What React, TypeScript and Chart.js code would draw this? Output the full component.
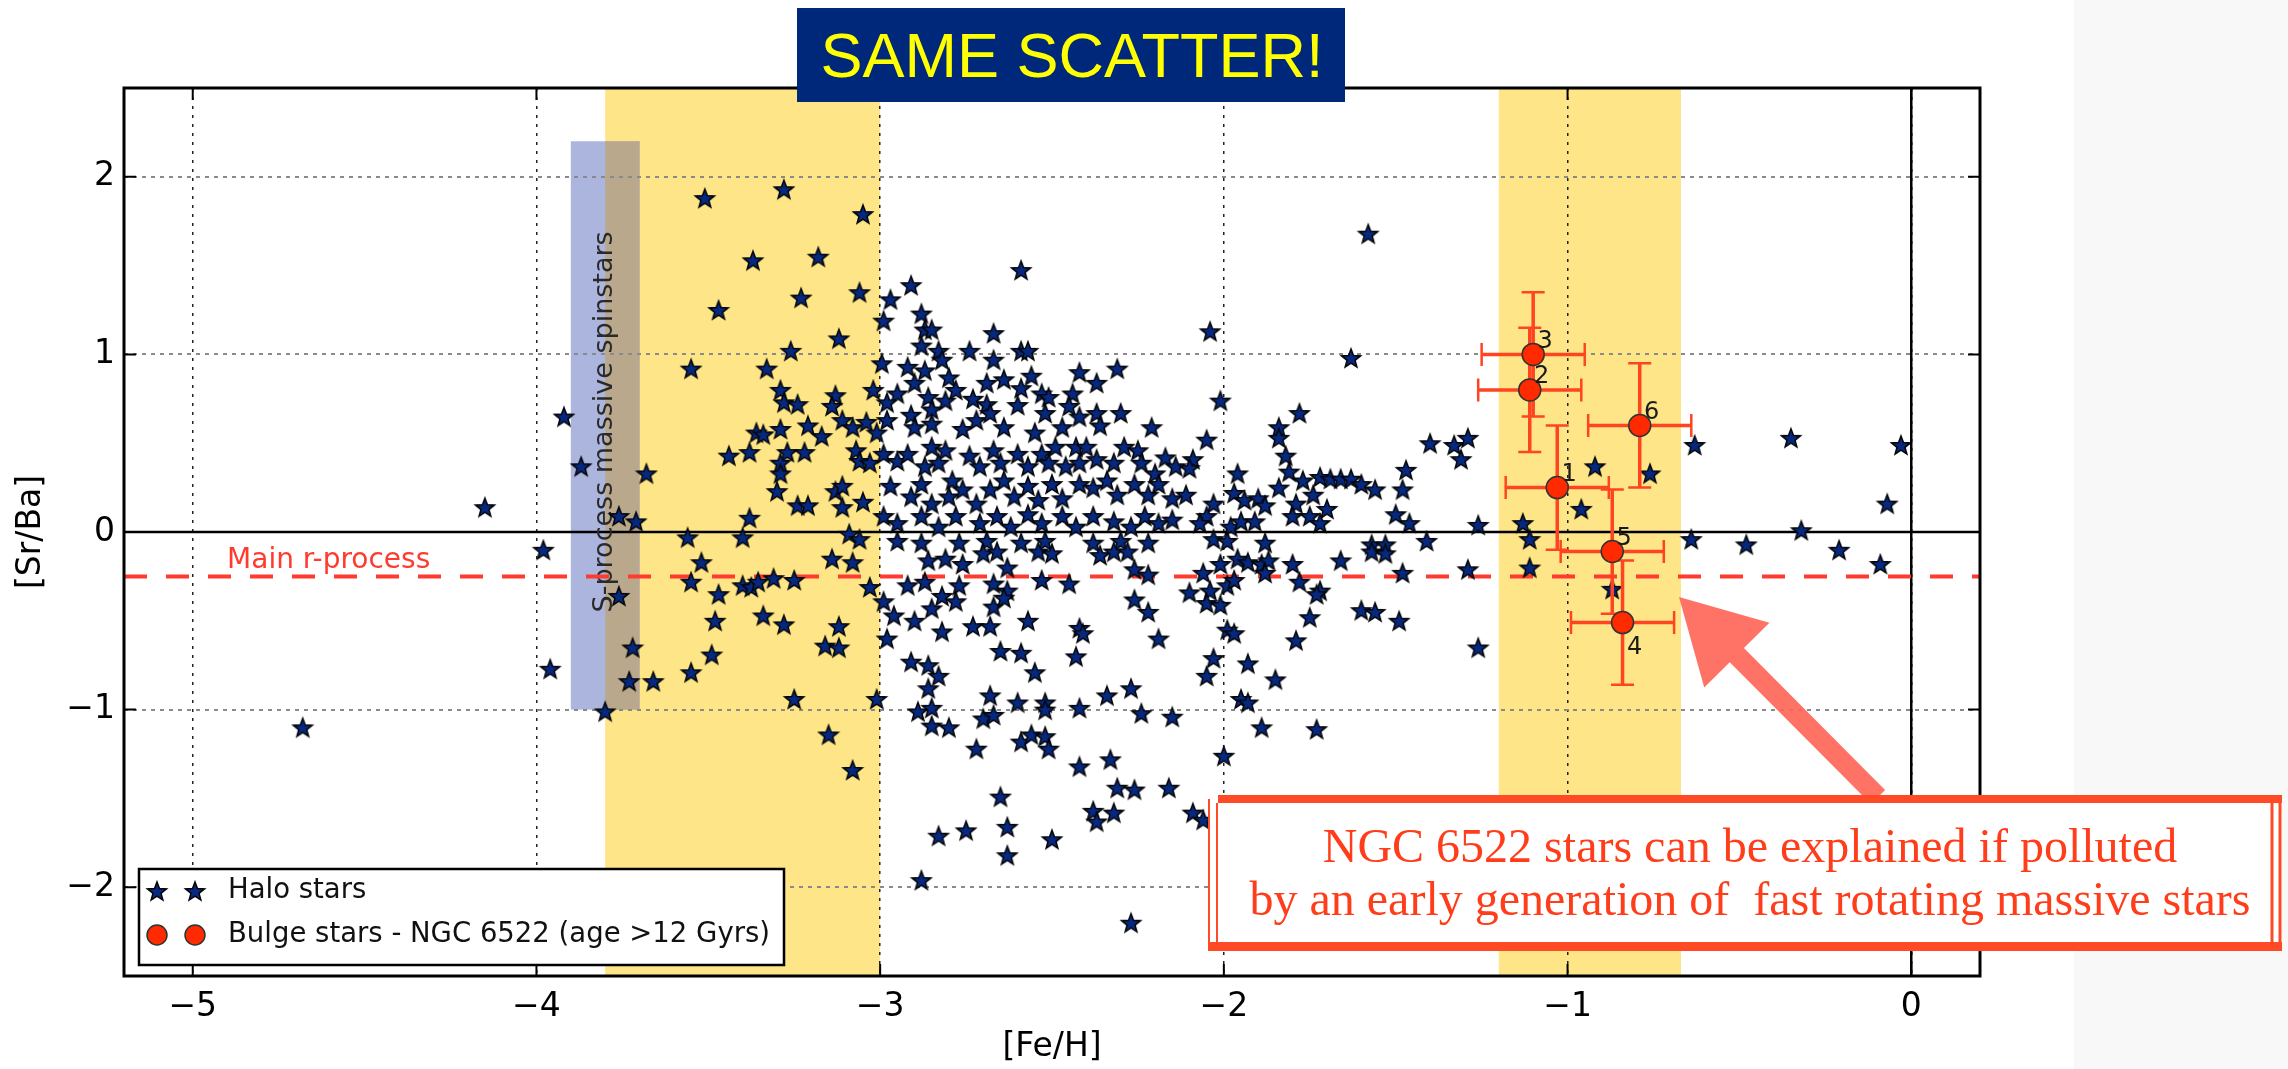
import React, { useEffect, useRef } from 'react';
import { Chart, registerables } from 'chart.js';

Chart.register(...registerables);

// ---------- axes ----------
const X_MIN = -5.2;
const X_MAX = 0.2;
const Y_MIN = -2.5;
const Y_MAX = 2.5;
const X_TICKS = [-5, -4, -3, -2, -1, 0];
const Y_TICKS = [-2, -1, 0, 1, 2];
const X_TITLE = '[Fe/H]';
const Y_TITLE = '[Sr/Ba]';

// ---------- reference lines / bands ----------
const MAIN_R_PROCESS = -0.25;
const MAIN_R_LABEL = 'Main r-process';
const MAIN_R_LABEL_POS: [number, number] = [-4.9, -0.2];
const YELLOW_BANDS: [number, number][] = [
  [-3.8, -3.0],
  [-1.2, -0.67],
];
const SPIN_BAND = { x0: -3.9, x1: -3.7, y0: -1.0, y1: 2.2 };
const SPIN_LABEL = 'S-process massive spinstars';
const SPIN_LABEL_POS: [number, number] = [-3.8, 0.62];

// ---------- bulge stars (NGC 6522) ----------
const BULGE_IDS = ['1', '2', '3', '4', '5', '6'];
const BULGE_FEH = [-1.03, -1.11, -1.1, -0.84, -0.87, -0.79];
const BULGE_SRBA = [0.25, 0.8, 1.0, -0.51, -0.11, 0.6];
const BULGE_FEH_ERR = [0.15, 0.15, 0.15, 0.15, 0.15, 0.15];
const BULGE_SRBA_ERR = [0.35, 0.35, 0.35, 0.35, 0.35, 0.35];

// ---------- halo stars ([Fe/H], [Sr/Ba]) ----------
const HALO_STARS: [number, number][] = [
  [-3.51, 1.88], [-3.28, 1.93], [-3.05, 1.79], [-3.37, 1.53], [-3.18, 1.55], [-3.23, 1.32], [-3.06, 1.35],
  [-3.47, 1.25], [-3.12, 1.09], [-3.26, 1.02], [-3.55, 0.92], [-3.33, 0.92], [-3.92, 0.65], [-3.87, 0.37],
  [-3.68, 0.33], [-3.29, 0.8], [-3.28, 0.73], [-3.24, 0.72], [-3.13, 0.77], [-3.14, 0.71], [-3.02, 0.8],
  [-3.11, 0.63], [-3.08, 0.59], [-3.04, 0.62], [-3.01, 0.56], [-3.21, 0.6], [-3.17, 0.54], [-3.29, 0.58],
  [-3.36, 0.56], [-3.34, 0.55], [-3.38, 0.45], [-3.44, 0.43], [-3.27, 0.45], [-3.22, 0.45], [-3.29, 0.39],
  [-3.29, 0.33], [-3.07, 0.46], [-3.06, 0.4], [-3.03, 0.39], [-3.13, 0.23], [-3.11, 0.26], [-3.3, 0.23],
  [-3.24, 0.15], [-3.21, 0.15], [-3.11, 0.14], [-3.05, 0.17], [-3.38, 0.08], [-3.76, 0.09], [-3.71, 0.06],
  [-3.98, -0.1], [-3.52, -0.17], [-3.56, -0.03], [-3.4, -0.03], [-3.14, -0.15], [-3.08, -0.17], [-3.09, -0.01],
  [-3.06, -0.04], [-3.55, -0.28], [-3.47, -0.35], [-3.4, -0.3], [-3.375, -0.31], [-3.355, -0.28], [-3.31, -0.26],
  [-3.25, -0.27], [-3.03, -0.31], [-3.76, -0.36], [-3.48, -0.5], [-3.34, -0.47], [-3.28, -0.52], [-3.12, -0.53],
  [-3.16, -0.64], [-3.12, -0.65], [-3.72, -0.65], [-3.49, -0.69], [-3.96, -0.77], [-3.55, -0.79], [-3.73, -0.84],
  [-3.66, -0.84], [-3.25, -0.94], [-3.01, -0.94], [-3.8, -1.01], [-3.15, -1.14], [-3.08, -1.34],
  [-4.68, -1.1], [-4.15, 0.14],
  [-2.59, 1.475], [-2.91, 1.39], [-2.97, 1.31], [-2.99, 1.19], [-2.88, 1.23], [-2.87, 1.14], [-2.85, 1.14],
  [-2.88, 1.05], [-2.83, 1.02], [-2.82, 0.97], [-2.67, 1.12], [-2.74, 1.02], [-2.67, 0.97], [-2.59, 1.02],
  [-2.57, 1.02], [-2.995, 0.95], [-2.92, 0.93], [-2.87, 0.91], [-2.8, 0.87], [-2.69, 0.84], [-2.64, 0.86],
  [-2.56, 0.88], [-2.59, 0.81], [-2.42, 0.9], [-2.37, 0.84], [-2.31, 0.92], [-2.95, 0.78], [-2.9, 0.84],
  [-2.86, 0.76], [-2.81, 0.74], [-2.78, 0.8], [-2.73, 0.75], [-2.69, 0.72], [-2.6, 0.715], [-2.53, 0.78],
  [-2.51, 0.76], [-2.44, 0.78], [-2.98, 0.73], [-2.98, 0.63], [-2.91, 0.66], [-2.85, 0.69], [-2.9, 0.59],
  [-2.85, 0.61], [-2.76, 0.58], [-2.72, 0.63], [-2.68, 0.67], [-2.64, 0.59], [-2.55, 0.56], [-2.52, 0.67],
  [-2.47, 0.59], [-2.45, 0.71], [-2.42, 0.65], [-2.37, 0.67], [-2.36, 0.6], [-2.3, 0.67], [-2.21, 0.59],
  [-2.99, 0.44], [-2.95, 0.4], [-2.92, 0.44], [-2.85, 0.48], [-2.81, 0.46], [-2.87, 0.37], [-2.83, 0.39],
  [-2.79, 0.29], [-2.74, 0.43], [-2.71, 0.37], [-2.67, 0.46], [-2.65, 0.39], [-2.6, 0.44], [-2.57, 0.37],
  [-2.53, 0.44], [-2.51, 0.39], [-2.49, 0.48], [-2.43, 0.48], [-2.4, 0.48], [-2.46, 0.37], [-2.42, 0.39],
  [-2.37, 0.41], [-2.32, 0.39], [-2.29, 0.48], [-2.25, 0.46], [-2.24, 0.39], [-2.2, 0.33], [-2.17, 0.42],
  [-2.14, 0.37], [-2.97, 0.26], [-2.91, 0.2], [-2.88, 0.27], [-2.85, 0.16], [-2.8, 0.2], [-2.76, 0.24],
  [-2.72, 0.16], [-2.68, 0.24], [-2.64, 0.29], [-2.61, 0.2], [-2.57, 0.26], [-2.54, 0.18], [-2.5, 0.27],
  [-2.47, 0.19], [-2.42, 0.27], [-2.38, 0.25], [-2.34, 0.29], [-2.31, 0.21], [-2.26, 0.27], [-2.22, 0.21],
  [-2.19, 0.27], [-2.15, 0.19], [-2.99, 0.09], [-2.95, 0.05], [-2.88, 0.09], [-2.83, 0.03], [-2.78, 0.09],
  [-2.71, 0.05], [-2.66, 0.09], [-2.62, 0.03], [-2.57, 0.1], [-2.53, 0.05], [-2.47, 0.09], [-2.43, 0.03],
  [-2.38, 0.09], [-2.32, 0.06], [-2.27, 0.03], [-2.23, 0.09], [-2.19, 0.05], [-2.15, 0.07], [-2.95, -0.05],
  [-2.88, -0.06], [-2.77, -0.06], [-2.69, -0.05], [-2.59, -0.06], [-2.52, -0.05], [-2.38, -0.06], [-2.3, -0.05],
  [-2.22, -0.06],
  [-2.86, -0.16], [-2.81, -0.15], [-2.76, -0.18], [-2.7, -0.12], [-2.66, -0.11], [-2.54, -0.11], [-2.5, -0.12],
  [-2.36, -0.13], [-2.32, -0.11], [-2.28, -0.11], [-2.63, -0.2], [-2.92, -0.3], [-2.87, -0.28], [-2.82, -0.36],
  [-2.77, -0.3], [-2.67, -0.29], [-2.63, -0.33], [-2.53, -0.27], [-2.45, -0.29], [-2.26, -0.21], [-2.22, -0.24],
  [-2.99, -0.39], [-2.96, -0.47], [-2.85, -0.43], [-2.78, -0.39], [-2.67, -0.42], [-2.64, -0.37], [-2.26, -0.38],
  [-2.22, -0.45], [-2.9, -0.5], [-2.82, -0.56], [-2.73, -0.53], [-2.68, -0.53], [-2.57, -0.5], [-2.42, -0.54],
  [-2.41, -0.57], [-2.98, -0.6], [-2.19, -0.6], [-2.65, -0.67], [-2.59, -0.68], [-2.43, -0.7], [-2.91, -0.73],
  [-2.86, -0.75], [-2.83, -0.81], [-2.55, -0.79], [-2.86, -0.88], [-2.68, -0.92], [-2.6, -0.96], [-2.52, -0.96],
  [-2.34, -0.92], [-2.27, -0.88], [-2.89, -1.01], [-2.85, -0.99], [-2.7, -1.05], [-2.67, -1.03], [-2.52, -1.0],
  [-2.42, -0.99], [-2.24, -1.02], [-2.15, -1.04], [-2.85, -1.09], [-2.8, -1.1], [-2.59, -1.18], [-2.56, -1.14],
  [-2.52, -1.15], [-2.51, -1.22], [-2.72, -1.22], [-2.42, -1.32], [-2.33, -1.28], [-2.31, -1.44], [-2.26, -1.45],
  [-2.16, -1.44], [-2.65, -1.49], [-2.38, -1.57], [-2.37, -1.63], [-2.32, -1.58], [-2.83, -1.71], [-2.75, -1.68],
  [-2.63, -1.66], [-2.5, -1.73], [-2.63, -1.82], [-2.88, -1.96], [-2.27, -2.2],
  [-2.04, 1.13], [-1.63, 0.98], [-2.01, 0.74], [-1.78, 0.67], [-2.05, 0.52], [-1.84, 0.59], [-1.84, 0.53],
  [-1.82, 0.43], [-2.09, 0.41], [-2.1, 0.36], [-1.4, 0.5], [-1.33, 0.49], [-1.29, 0.53], [-1.31, 0.41],
  [-1.47, 0.35], [-1.48, 0.24], [-1.96, 0.33], [-1.81, 0.34], [-1.77, 0.29], [-1.72, 0.31], [-1.69, 0.3],
  [-1.66, 0.3], [-1.63, 0.3], [-1.6, 0.27], [-1.56, 0.24], [-2.11, 0.21], [-1.97, 0.22], [-1.94, 0.18],
  [-1.9, 0.19], [-1.88, 0.15], [-1.84, 0.25], [-1.79, 0.16], [-1.74, 0.21], [-1.7, 0.13], [-2.03, 0.16],
  [-2.05, 0.09], [-2.07, 0.05], [-1.98, 0.03], [-1.95, 0.06], [-1.91, 0.06], [-1.8, 0.09], [-1.75, 0.09],
  [-1.72, 0.05], [-1.5, 0.1], [-1.46, 0.05], [-1.26, 0.04], [-2.03, -0.04], [-1.99, -0.05], [-1.88, -0.06],
  [-1.57, -0.07], [-1.53, -0.07], [-1.41, -0.05], [-1.58, 1.68],
  [-2.01, -0.18], [-1.96, -0.15], [-1.93, -0.17], [-1.89, -0.18], [-1.87, -0.16], [-1.8, -0.18], [-1.66, -0.16],
  [-1.57, -0.11], [-1.53, -0.12], [-2.06, -0.23], [-1.88, -0.23], [-1.48, -0.23], [-1.29, -0.21], [-2.1, -0.34],
  [-2.04, -0.33], [-1.99, -0.3], [-1.97, -0.27], [-1.78, -0.28], [-1.72, -0.33], [-1.73, -0.35], [-2.05, -0.4],
  [-2.01, -0.41], [-1.75, -0.48], [-1.6, -0.44], [-1.56, -0.45], [-1.49, -0.5], [-1.99, -0.55], [-1.97, -0.57],
  [-1.79, -0.61], [-1.26, -0.65], [-2.03, -0.71], [-1.93, -0.74], [-2.05, -0.81], [-1.85, -0.83], [-1.95, -0.94],
  [-1.93, -0.96], [-1.89, -1.1], [-1.73, -1.11], [-2.0, -1.26], [-2.09, -1.58], [-2.06, -1.62],
  [-0.92, 0.37], [-0.96, 0.13], [-0.76, 0.33], [-0.63, 0.49], [-0.35, 0.53], [-0.03, 0.49], [-0.07, 0.16],
  [-1.13, 0.05], [-1.11, -0.04], [-1.11, -0.2], [-0.64, -0.04], [-0.48, -0.07], [-0.32, 0.01], [-0.21, -0.1],
  [-0.09, -0.18], [-0.87, -0.32],
];

// ---------- texts ----------
const LEGEND_LABELS = ['Halo stars', 'Bulge stars - NGC 6522 (age >12 Gyrs)'];
const TITLE_TEXT = 'SAME SCATTER!';
const NOTE_LINES = [
  'NGC 6522 stars can be explained if polluted',
  'by an early generation of  fast rotating massive stars',
];

// ---------- styles ----------
const W = 2288;
const H = 1069;
const STAR_FILL = '#06287e';
const STAR_EDGE = '#050505';
const BULGE_FILL = '#ff2a00';
const ERR_COLOR = '#ff4422';
const RED_LINE = '#ff3b30';
const NOTE_RED = '#ff3d1a';
const FONT = '"DejaVu Sans", sans-serif';

function makeStar(r: number): HTMLCanvasElement {
  const size = Math.ceil(r * 2 + 4);
  const c = document.createElement('canvas');
  c.width = size;
  c.height = size;
  const g = c.getContext('2d')!;
  const cx = size / 2;
  const cy = size / 2 + r * 0.1;
  g.beginPath();
  for (let i = 0; i < 10; i++) {
    const rr = i % 2 === 0 ? r : r * 0.42;
    const a = -Math.PI / 2 + (i * Math.PI) / 5;
    const px = cx + rr * Math.cos(a);
    const py = cy + rr * Math.sin(a);
    if (i === 0) g.moveTo(px, py);
    else g.lineTo(px, py);
  }
  g.closePath();
  g.fillStyle = STAR_FILL;
  g.fill();
  g.lineWidth = 1.5;
  g.lineJoin = 'miter';
  g.strokeStyle = STAR_EDGE;
  g.stroke();
  return c;
}

const fmtTick = (v: number) => (v < 0 ? '\u2212' + Math.abs(v) : String(v));

export default function App() {
  const ref = useRef<HTMLCanvasElement | null>(null);

  useEffect(() => {
    document.body.style.margin = '0';
    const canvas = ref.current;
    if (!canvas) return;
    const starImg = makeStar(10);

    const backgroundPlugin = {
      id: 'bgBands',
      beforeDraw(chart: any) {
        const { ctx, chartArea: a, scales } = chart;
        const x = scales.x;
        const y = scales.y;
        ctx.save();
        ctx.fillStyle = '#ffffff';
        ctx.fillRect(0, 0, chart.width, chart.height);
        ctx.fillStyle = '#f8f8f8';
        ctx.fillRect(2074, 0, chart.width - 2074, chart.height);
        ctx.fillStyle = '#fde588';
        for (const [b0, b1] of YELLOW_BANDS) {
          const p0 = x.getPixelForValue(b0);
          const p1 = x.getPixelForValue(b1);
          ctx.fillRect(p0, a.top, p1 - p0, a.bottom - a.top);
        }
        const sx0 = x.getPixelForValue(SPIN_BAND.x0);
        const sx1 = x.getPixelForValue(SPIN_BAND.x1);
        const sy0 = y.getPixelForValue(SPIN_BAND.y1);
        const sy1 = y.getPixelForValue(SPIN_BAND.y0);
        ctx.fillStyle = '#abb5dd';
        ctx.fillRect(sx0, sy0, sx1 - sx0, sy1 - sy0);
        ctx.fillStyle = '#b9a88b';
        for (const [b0, b1] of YELLOW_BANDS) {
          const i0 = Math.max(b0, SPIN_BAND.x0);
          const i1 = Math.min(b1, SPIN_BAND.x1);
          if (i1 > i0) {
            const q0 = x.getPixelForValue(i0);
            const q1 = x.getPixelForValue(i1);
            ctx.fillRect(q0, sy0, q1 - q0, sy1 - sy0);
          }
        }
        ctx.restore();
      },
      beforeDatasetsDraw(chart: any) {
        const { ctx, chartArea: a, scales } = chart;
        const x = scales.x;
        const y = scales.y;
        ctx.save();
        ctx.strokeStyle = '#000';
        ctx.lineWidth = 2.5;
        ctx.setLineDash([]);
        const y0 = y.getPixelForValue(0);
        const x0 = x.getPixelForValue(0);
        ctx.beginPath();
        ctx.moveTo(a.left, y0);
        ctx.lineTo(a.right, y0);
        ctx.moveTo(x0, a.top);
        ctx.lineTo(x0, a.bottom);
        ctx.stroke();
        ctx.fillStyle = '#2a2a2a';
        ctx.font = `27px ${FONT}`;
        ctx.textAlign = 'center';
        ctx.textBaseline = 'middle';
        ctx.translate(x.getPixelForValue(SPIN_LABEL_POS[0]), y.getPixelForValue(SPIN_LABEL_POS[1]));
        ctx.rotate(-Math.PI / 2);
        ctx.fillText(SPIN_LABEL, 0, 0);
        ctx.restore();
        ctx.save();
        ctx.fillStyle = RED_LINE;
        ctx.font = `28px ${FONT}`;
        ctx.textAlign = 'left';
        ctx.textBaseline = 'alphabetic';
        ctx.fillText(MAIN_R_LABEL, x.getPixelForValue(MAIN_R_LABEL_POS[0]), y.getPixelForValue(MAIN_R_LABEL_POS[1]));
        ctx.restore();
      },
      beforeDatasetDraw(chart: any, args: any) {
        const ds = chart.data.datasets[args.index];
        if (ds.label !== 'bulge') return;
        const { ctx, scales } = chart;
        const x = scales.x;
        const y = scales.y;
        ctx.save();
        ctx.strokeStyle = ERR_COLOR;
        const cap = 11.5;
        for (let i = 0; i < BULGE_FEH.length; i++) {
          const px = x.getPixelForValue(BULGE_FEH[i]);
          const py = y.getPixelForValue(BULGE_SRBA[i]);
          const xl = x.getPixelForValue(BULGE_FEH[i] - BULGE_FEH_ERR[i]);
          const xr = x.getPixelForValue(BULGE_FEH[i] + BULGE_FEH_ERR[i]);
          const yt = y.getPixelForValue(BULGE_SRBA[i] + BULGE_SRBA_ERR[i]);
          const yb = y.getPixelForValue(BULGE_SRBA[i] - BULGE_SRBA_ERR[i]);
          ctx.lineWidth = 3.5;
          ctx.beginPath();
          ctx.moveTo(xl, py);
          ctx.lineTo(xr, py);
          ctx.moveTo(px, yt);
          ctx.lineTo(px, yb);
          ctx.stroke();
          ctx.lineWidth = 2.5;
          ctx.beginPath();
          ctx.moveTo(xl, py - cap);
          ctx.lineTo(xl, py + cap);
          ctx.moveTo(xr, py - cap);
          ctx.lineTo(xr, py + cap);
          ctx.moveTo(px - cap, yt);
          ctx.lineTo(px + cap, yt);
          ctx.moveTo(px - cap, yb);
          ctx.lineTo(px + cap, yb);
          ctx.stroke();
        }
        ctx.restore();
      },
      afterDatasetsDraw(chart: any) {
        const { ctx, chartArea: a, scales } = chart;
        const x = scales.x;
        const y = scales.y;
        ctx.save();
        ctx.fillStyle = '#1a1a1a';
        ctx.font = `24px ${FONT}`;
        ctx.textAlign = 'center';
        ctx.textBaseline = 'middle';
        for (let i = 0; i < BULGE_IDS.length; i++) {
          const px = x.getPixelForValue(BULGE_FEH[i]);
          const py = y.getPixelForValue(BULGE_SRBA[i]);
          const dy = BULGE_IDS[i] === '4' ? 25 : -13;
          ctx.fillText(BULGE_IDS[i], px + 12, py + dy);
        }
        ctx.strokeStyle = '#000';
        ctx.lineWidth = 3;
        ctx.strokeRect(a.left, a.top, a.right - a.left, a.bottom - a.top);
        ctx.lineWidth = 2;
        ctx.beginPath();
        for (const v of X_TICKS) {
          const px = x.getPixelForValue(v);
          ctx.moveTo(px, a.bottom);
          ctx.lineTo(px, a.bottom - 12);
          ctx.moveTo(px, a.top);
          ctx.lineTo(px, a.top + 12);
        }
        for (const v of Y_TICKS) {
          const py = y.getPixelForValue(v);
          ctx.moveTo(a.left, py);
          ctx.lineTo(a.left + 12, py);
          ctx.moveTo(a.right, py);
          ctx.lineTo(a.right - 12, py);
        }
        ctx.stroke();
        const lx = 139;
        const ly = 869;
        const lw = 645;
        const lh = 96;
        ctx.fillStyle = '#fff';
        ctx.fillRect(lx, ly, lw, lh);
        ctx.strokeStyle = '#000';
        ctx.lineWidth = 2.5;
        ctx.strokeRect(lx, ly, lw, lh);
        const r1 = 891;
        const r2 = 935;
        ctx.drawImage(starImg, 157 - starImg.width / 2, r1 - starImg.height / 2);
        ctx.drawImage(starImg, 195 - starImg.width / 2, r1 - starImg.height / 2);
        for (const cx of [157, 195]) {
          ctx.beginPath();
          ctx.arc(cx, r2, 10, 0, Math.PI * 2);
          ctx.fillStyle = BULGE_FILL;
          ctx.fill();
          ctx.lineWidth = 1.5;
          ctx.strokeStyle = '#333';
          ctx.stroke();
        }
        ctx.fillStyle = '#111';
        ctx.font = `27.5px ${FONT}`;
        ctx.textAlign = 'left';
        ctx.textBaseline = 'middle';
        ctx.fillText(LEGEND_LABELS[0], 228, r1);
        ctx.fillText(LEGEND_LABELS[1], 228, r2);
        ctx.restore();
      },
      afterDraw(chart: any) {
        const { ctx } = chart;
        ctx.save();
        ctx.fillStyle = '#00287a';
        ctx.fillRect(797, 8, 548, 94);
        ctx.fillStyle = '#ffff00';
        ctx.font = '63px "Liberation Sans", Arial, sans-serif';
        ctx.textAlign = 'center';
        ctx.textBaseline = 'alphabetic';
        ctx.fillText(TITLE_TEXT, 1072, 77);
        const tail = [1878, 797];
        const tip = [1679, 597];
        const dx = tip[0] - tail[0];
        const dy = tip[1] - tail[1];
        const len = Math.hypot(dx, dy);
        const ux = dx / len;
        const uy = dy / len;
        const nx = -uy;
        const ny = ux;
        const headLen = 82;
        const headHalf = 46;
        const shaftHalf = 10;
        const bx = tip[0] - ux * headLen;
        const by = tip[1] - uy * headLen;
        ctx.fillStyle = 'rgba(255, 100, 85, 0.9)';
        ctx.beginPath();
        ctx.moveTo(tail[0] + nx * shaftHalf, tail[1] + ny * shaftHalf);
        ctx.lineTo(bx + nx * shaftHalf, by + ny * shaftHalf);
        ctx.lineTo(bx + nx * headHalf, by + ny * headHalf);
        ctx.lineTo(tip[0], tip[1]);
        ctx.lineTo(bx - nx * headHalf, by - ny * headHalf);
        ctx.lineTo(bx - nx * shaftHalf, by - ny * shaftHalf);
        ctx.lineTo(tail[0] - nx * shaftHalf, tail[1] - ny * shaftHalf);
        ctx.closePath();
        ctx.fill();
        const bx0 = 1208;
        const by0 = 795;
        const bw = 1074;
        const bh = 156;
        ctx.fillStyle = '#fff';
        ctx.fillRect(bx0, by0, bw, bh);
        ctx.fillStyle = '#ff4a26';
        ctx.fillRect(bx0 + 10, by0, bw - 10, 8);
        ctx.fillRect(bx0, by0 + bh - 9, bw, 9);
        ctx.strokeStyle = '#ff4a26';
        ctx.lineWidth = 2;
        ctx.beginPath();
        ctx.moveTo(bx0 + 1, by0 + 4);
        ctx.lineTo(bx0 + 1, by0 + bh);
        ctx.moveTo(bx0 + 9, by0 + 8);
        ctx.lineTo(bx0 + 9, by0 + bh - 6);
        ctx.stroke();
        ctx.lineWidth = 3;
        ctx.beginPath();
        ctx.moveTo(bx0 + bw - 2, by0);
        ctx.lineTo(bx0 + bw - 2, by0 + bh);
        ctx.moveTo(bx0 + bw - 10, by0 + 6);
        ctx.lineTo(bx0 + bw - 10, by0 + bh - 6);
        ctx.stroke();
        ctx.fillStyle = NOTE_RED;
        ctx.font = '48px "Liberation Serif", "Times New Roman", serif';
        ctx.textAlign = 'center';
        ctx.textBaseline = 'alphabetic';
        ctx.fillText(NOTE_LINES[0], 1750, 862);
        ctx.fillText(NOTE_LINES[1], 1750, 915);
        ctx.restore();
      },
    };

    const chart = new Chart(canvas, {
      type: 'scatter',
      data: {
        datasets: [
          {
            label: 'bulge',
            data: BULGE_FEH.map((v, i) => ({ x: v, y: BULGE_SRBA[i] })),
            pointStyle: 'circle',
            pointRadius: 11,
            backgroundColor: BULGE_FILL,
            borderColor: '#333',
            borderWidth: 1.5,
            order: 0,
          } as any,
          {
            label: 'halo',
            data: HALO_STARS.map(([fx, sy]) => ({ x: fx, y: sy })),
            pointStyle: starImg,
            pointRadius: 10,
            order: 2,
          } as any,
          {
            label: 'main r-process',
            data: [
              { x: X_MIN, y: MAIN_R_PROCESS },
              { x: X_MAX, y: MAIN_R_PROCESS },
            ],
            showLine: true,
            borderColor: RED_LINE,
            borderWidth: 4,
            borderDash: [23, 19],
            pointRadius: 0,
            order: 3,
          } as any,
        ],
      },
      options: {
        responsive: false,
        maintainAspectRatio: false,
        devicePixelRatio: 1,
        animation: false,
        events: [],
        layout: { padding: { left: 0, right: W - 1980, top: 88, bottom: 0 } },
        plugins: {
          legend: { display: false },
          tooltip: { enabled: false },
          title: { display: false },
        },
        scales: {
          x: {
            type: 'linear',
            min: X_MIN,
            max: X_MAX,
            afterBuildTicks: (scale: any) => {
              scale.ticks = X_TICKS.map((v) => ({ value: v }));
            },
            afterFit: (scale: any) => {
              scale.height = H - 976;
            },
            grid: { color: '#222', lineWidth: 1.5, drawTicks: false },
            border: { display: false, dash: [3, 6] },
            ticks: {
              padding: 12,
              color: '#000',
              font: { family: FONT, size: 33 },
              maxRotation: 0,
              callback: (v: any) => fmtTick(Number(v)),
            },
            title: {
              display: true,
              text: X_TITLE,
              color: '#000',
              font: { family: FONT, size: 33 },
              padding: { top: 0, bottom: 2 },
            },
          },
          y: {
            type: 'linear',
            min: Y_MIN,
            max: Y_MAX,
            afterBuildTicks: (scale: any) => {
              scale.ticks = Y_TICKS.map((v) => ({ value: v }));
            },
            afterFit: (scale: any) => {
              scale.width = 124;
            },
            grid: { color: '#8a8a8a', lineWidth: 2, drawTicks: false },
            border: { display: false, dash: [4, 5] },
            ticks: {
              padding: 9,
              color: '#000',
              font: { family: FONT, size: 33 },
              callback: (v: any) => fmtTick(Number(v)),
            },
            title: {
              display: true,
              text: Y_TITLE,
              color: '#000',
              font: { family: FONT, size: 33 },
              padding: { top: 12, bottom: 0 },
            },
          },
        },
      } as any,
      plugins: [backgroundPlugin as any],
    });

    return () => {
      chart.destroy();
    };
  }, []);

  return (
    <div style={{ width: W, height: H, position: 'relative', overflow: 'hidden' }}>
      <canvas ref={ref} width={W} height={H} style={{ display: 'block', width: W, height: H }} />
    </div>
  );
}
